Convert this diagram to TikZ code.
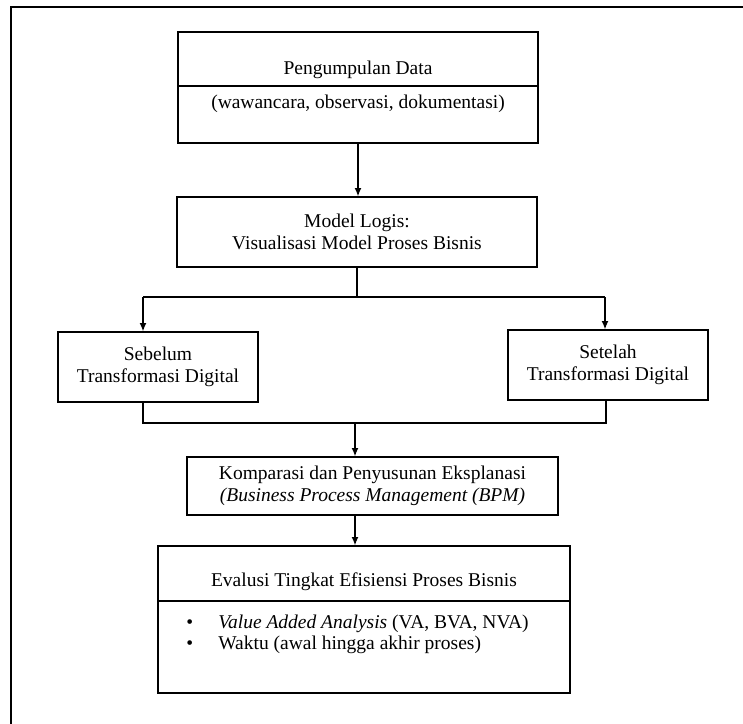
\documentclass[tikz,border=0pt]{standalone}
\usepackage{fontspec}
\setmainfont{Liberation Serif}
\usetikzlibrary{arrows.meta,positioning}

\begin{document}
\begin{tikzpicture}[
            x=0.6pt, y=-0.6pt,
            box/.style={rectangle, draw, line width=0.8pt, text centered, align=center, inner sep=0pt, font=\fontsize{11.7}{13.2}\selectfont},
            txt/.style={align=center, inner sep=0pt, font=\fontsize{11.7}{13.2}\selectfont},
            line/.style={line width=0.8pt},
            arrow/.style={->, >={Latex[length=5pt, width=4.2pt]}, line width=0.8pt}
        ]
            \useasboundingbox (0,0) rectangle (743,724);
            \draw[line] (743,7) -- (11,7) -- (11,724);

            \node[box, minimum width=216pt, minimum height=66.6pt] (data) at (358,87.5) {};
            \draw[line] (data.west |- 0,86) -- (data.east |- 0,86);
            \node[txt] (dataTitle) at (358,70) {Pengumpulan Data};
            \node[txt] (dataSub) at (358,104) {(wawancara, observasi, dokumentasi)};

            \node[box, minimum width=216pt, minimum height=42pt] (logis) at (357,232) {Model Logis:\\Visualisasi Model Proses Bisnis};
            \node[box, minimum width=120pt, minimum height=42pt] (sebelum) at (158,367) {Sebelum\\Transformasi Digital};
            \node[box, minimum width=120pt, minimum height=42pt] (setelah) at (608,365) {Setelah\\Transformasi Digital};
            \node[box, minimum width=222.6pt, minimum height=34.8pt] (komparasi) at (372.5,486) {Komparasi dan Penyusunan Eksplanasi\\\textit{(Business Process Management (BPM)}};

            \node[box, minimum width=247.2pt, minimum height=88.2pt] (evaluasi) at (364,619.5) {};
            \draw[line] (evaluasi.west |- 0,601) -- (evaluasi.east |- 0,601);
            \node[txt] (evalTitle) at (364,582) {Evalusi Tingkat Efisiensi Proses Bisnis};
            \node[txt, anchor=west] (bulletA) at (186,624) {•};
            \node[txt, anchor=west] (vaText) at (218,624) {\textit{Value Added Analysis} (VA, BVA, NVA)};
            \node[txt, anchor=west] (bulletB) at (186,645) {•};
            \node[txt, anchor=west] (waktuText) at (218,645) {Waktu (awal hingga akhir proses)};

            \coordinate (splitL) at (143,297);
            \coordinate (splitR) at (605,297);
            \coordinate (joinL) at (143,423);
            \coordinate (joinR) at (606,423);
            \coordinate (joinM) at (355,423);

            \draw[arrow] (data.south) -- (data.south |- logis.north);
            \draw[line] (logis.south) -- (logis.south |- splitL);
            \draw[line] (splitL) -- (splitR);
            \draw[arrow] (splitL) -- (splitL |- sebelum.north);
            \draw[arrow] (splitR) -- (splitR |- setelah.north);
            \draw[line] (joinL |- sebelum.south) -- (joinL) -- (joinR) -- (joinR |- setelah.south);
            \draw[arrow] (joinM) -- (joinM |- komparasi.north);
            \draw[arrow] (joinM |- komparasi.south) -- (joinM |- evaluasi.north);
        \end{tikzpicture}
\end{document}
